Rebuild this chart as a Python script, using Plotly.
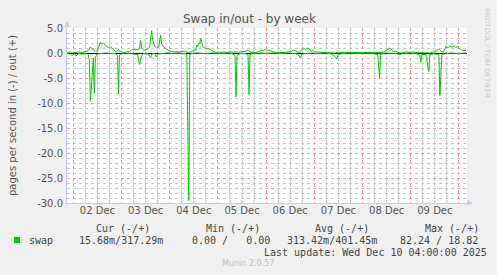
import math
import pandas as pd
import plotly.graph_objects as go

# ---------------- data ----------------
BASE = "2025-12-02 00:00"
RANGE_START = "2025-12-01 20:52"
RANGE_END = "2025-12-10 04:00"

# swap out (+), hours since BASE
out_hours = [-3, -1.5, -0.5, 1, 2.5, 4.5, 6, 7.5, 8.5, 9, 10, 11, 12, 13, 13.5, 14, 15, 16, 17, 18, 19, 20, 21, 22,
             22.5, 23, 24, 25, 26.5, 28, 29, 30, 31, 32, 33, 33.5, 34, 35, 36, 37, 38, 39, 39.5, 40.5, 41.5, 42.5,
             43.5, 44, 45, 46, 47, 48, 49, 50, 51, 52.5, 54, 55.5, 56.5, 57.5, 58.5, 60, 61, 61.5, 62, 62.5, 63,
             63.5, 64, 64.5, 65.5, 66.5, 67.5, 68.5, 69.5, 70.5, 72, 73.5, 75, 76.5, 78, 79.5, 81, 82.5, 84, 85.5,
             87, 88, 89.5, 91, 92.5, 93.5, 94.5, 95.5, 96.5, 97.5, 98.5, 99.5, 101, 102.5, 104, 105.5, 107, 108.5,
             109.5, 110.5, 111.5, 112.5, 113.5, 114.5, 115.5, 116.5, 117.5, 118.5, 119.5, 120.5, 121.5, 123, 124.5,
             126, 128, 130, 132, 134, 136, 138, 140, 142, 144, 146, 148, 150, 151.5, 153.5, 155, 156.5, 157.5,
             158.5, 159.5, 160.5, 161.5, 163, 164.5, 166, 167.5, 169, 170.5, 172, 174, 175.5, 177.5, 179.5, 181,
             182, 183, 184, 185, 185.5, 186.5, 187.5, 188.5, 189.5, 190.5, 191.5, 192.5, 193.5, 194.5, 195.5]
out_values = [0.1, 0.2, 0.0, 0.1, 0.2, 0.1, 0.3, 0.5, 1.2, 1.0, 0.6, 0.3, 0.5, 1.6, 2.2, 1.8, 1.9, 1.5, 1.2, 1.0,
              1.1, 0.6, 0.3, 0.4, 0.7, 0.4, 0.2, 0.1, 0.2, 0.3, 0.6, 0.8, 0.6, 0.7, 0.9, 2.5, 1.0, 0.5, 0.6, 0.8,
              1.2, 4.5, 2.5, 1.4, 1.0, 1.2, 3.6, 1.8, 1.2, 0.9, 0.6, 0.4, 0.3, 0.2, 0.3, 0.2, 0.3, 0.4, 0.2, 0.1,
              0.3, 0.4, 0.6, 1.6, 1.3, 2.0, 1.9, 2.9, 1.8, 1.3, 1.0, 0.8, 0.9, 0.6, 0.3, 0.1, 0.2, 0.1, 0.2, 0.1,
              0.2, 0.2, 0.1, 0.2, 0.3, 0.3, 0.6, 0.2, 0.1, 0.1, 0.3, 0.6, 0.5, 0.7, 0.5, 0.6, 0.4, 0.2, 0.1, 0.1,
              0.0, 0.1, 0.2, 0.3, 0.6, 0.4, 0.2, 0.1, 0.5, 1.0, 0.7, 1.0, 0.8, 0.3, 0.6, 0.2, 0.2, 0.1, 0.1, 0.1,
              0.0, 0.0, 0.1, 0.1, 0.0, 0.1, 0.1, 0.1, 0.0, 0.1, 0.1, 0.0, 0.1, 0.1, 0.3, 0.8, 1.0, 0.6, 0.3, 0.4,
              0.1, 0.0, 0.1, 0.2, 0.1, 0.2, 0.1, 0.1, 0.1, 0.1, 0.0, 0.2, 0.5, 0.8, 0.4, 0.2, 0.8, 1.3, 1.1, 1.3,
              1.2, 1.4, 1.1, 1.3, 0.9, 0.5, 0.5, 0.5]

# swap in (-), hours since BASE, plotted negated
in_hours = [-3, -1.5, -0.5, 0.5, 1.5, 2.5, 4.5, 6.5, 7.5, 8, 8.5, 9.5, 10, 10.5, 11, 12, 13.5, 16, 18.5, 21, 22,
            22.5, 23, 24, 26, 28, 30.5, 32, 33, 34, 35, 36, 37.5, 38.5, 39, 40.5, 41.5, 42, 44, 46.5, 49, 51.5, 54,
            56, 56.5, 57.5, 58, 59, 61.5, 65.5, 69, 73, 77, 79, 80.5, 81, 81.5, 83, 85.5, 87, 87.5, 88, 90, 93, 96,
            99, 103, 107, 110.5, 112, 113, 114, 116, 119, 122, 125, 128, 129.5, 130.5, 131, 132, 134, 138, 142,
            146, 149, 151.5, 152.5, 153, 155, 158.5, 161.5, 162.5, 163.5, 167.5, 170.5, 172.5, 173, 173.5, 175.5,
            177, 177.5, 179.5, 182, 182.5, 183.5, 185.5, 188.5, 191.5, 195.5]
in_values = [0.1, 0.2, 0.5, 0.1, 0.6, 0.1, 0.2, 0.1, 0.3, 1.5, 9.5, 2.0, 1.0, 8.0, 0.8, 0.2, 0.1, 0.0, 0.1, 0.1,
             0.5, 8.2, 0.4, 0.1, 0.0, 0.1, 0.1, 0.3, 2.3, 0.6, 0.1, 0.1, 0.2, 1.0, 0.2, 0.1, 0.8, 0.2, 0.1, 0.0,
             0.1, 0.0, 0.1, 0.1, 0.5, 29.5, 0.3, 0.1, 0.0, 0.1, 0.0, 0.1, 0.0, 0.1, 0.5, 8.8, 0.5, 0.1, 0.1, 0.3,
             8.3, 0.2, 0.1, 0.0, 0.1, 0.0, 0.1, 0.0, 0.1, 0.3, 1.0, 0.2, 0.1, 0.0, 0.1, 0.0, 0.1, 0.5, 0.8, 1.2,
             0.3, 0.1, 0.0, 0.1, 0.0, 0.1, 0.3, 5.0, 0.3, 0.0, 0.1, 0.1, 0.4, 0.1, 0.0, 0.1, 0.4, 1.9, 0.3, 0.3,
             3.7, 0.3, 0.1, 0.4, 8.5, 0.3, 0.1, 0.0, 0.1, 0.0]

y_tick_values = [5, 0, -5, -10, -15, -20, -25, -30]
y_tick_labels = ["5.0", "0.0", "-5.0", "-10.0", "-15.0", "-20.0", "-25.0", "-30.0"]

legend_headers = ["Cur (-/+)", "Min (-/+)", "Avg (-/+)", "Max (-/+)"]
legend_values = ["15.68m/317.29m", "0.00 /   0.00", "313.42m/401.45m", "82.24 / 18.82"]
series_name = "swap"
last_update = "Last update: Wed Dec 10 04:00:00 2025"

# ---------------- figure ----------------
W, H = 497, 275
L, R, T, B = 67, 30, 28, 72
PW, PH = W - L - R, H - T - B
MINOR_STEP_H = 6


def px(x):
    return (x - L) / PW


def py(y):
    return (H - B - y) / PH


base = pd.Timestamp(BASE)
out_x = base + pd.to_timedelta(out_hours, unit="h")
in_x = base + pd.to_timedelta(in_hours, unit="h")
in_y = [-v for v in in_values]
h_start = (pd.Timestamp(RANGE_START) - base) / pd.Timedelta(hours=1)
h_end = (pd.Timestamp(RANGE_END) - base) / pd.Timedelta(hours=1)

GREEN = "#00CC00"
fig = go.Figure()
# invisible anchor trace so the base (minor-grid) subplot is drawn
fig.add_trace(go.Scatter(x=[h_start, h_end], y=[None, None], mode="lines",
                         line=dict(width=0), hoverinfo="skip", xaxis="x", yaxis="y"))
fig.add_trace(go.Scatter(x=in_x, y=in_y, mode="lines", line=dict(color=GREEN, width=1),
                         hoverinfo="skip", xaxis="x2", yaxis="y2"))
fig.add_trace(go.Scatter(x=out_x, y=out_values, mode="lines", line=dict(color=GREEN, width=1),
                         hoverinfo="skip", xaxis="x2", yaxis="y2"))

MAJ = "#E8A0A0"
MIN = "#C8C8C8"
AXC = "#C8C8F0"
TXT = "#555555"

fig.update_layout(
    width=W, height=H,
    margin=dict(l=L, r=R, t=T, b=B, pad=0),
    paper_bgcolor="#F0F0F0", plot_bgcolor="#FFFFFF",
    showlegend=False,
    font=dict(family="DejaVu Sans", size=10, color=TXT),
    # base axes: minor grid only (hours since BASE)
    xaxis=dict(
        type="linear", range=[h_start, h_end], tick0=0, dtick=MINOR_STEP_H,
        showgrid=True, gridcolor=MIN, griddash="dot", gridwidth=1,
        showticklabels=False, ticks="", zeroline=False,
        showline=True, linecolor=AXC, linewidth=1, fixedrange=True,
    ),
    yaxis=dict(
        range=[-30, 5], tick0=0, dtick=1,
        showgrid=True, gridcolor=MIN, griddash="dot", gridwidth=1,
        showticklabels=False, ticks="", zeroline=False,
        showline=True, linecolor=AXC, linewidth=1, fixedrange=True,
        title=dict(text="pages per second in (-) / out (+)", font=dict(size=10, color=TXT), standoff=47),
    ),
    # overlay axes: major grid, labels, data
    xaxis2=dict(
        type="date", range=[RANGE_START, RANGE_END], overlaying="x", anchor="y2", side="bottom",
        tick0="2025-12-02", dtick=86400000, ticklabelmode="period", tickformat="%d %b",
        showgrid=True, gridcolor=MAJ, griddash="dot", gridwidth=1,
        showline=False, ticks="", zeroline=False,
        tickfont=dict(size=10, color=TXT), fixedrange=True,
    ),
    yaxis2=dict(
        range=[-30, 5], overlaying="y", anchor="x2", side="left",
        tickmode="array", tickvals=y_tick_values, ticktext=y_tick_labels,
        showgrid=True, gridcolor=MAJ, griddash="dot", gridwidth=1,
        showline=False, ticks="",
        zeroline=True, zerolinecolor="#000000", zerolinewidth=1,
        tickfont=dict(size=10, color=TXT), ticklabelstandoff=3, fixedrange=True,
    ),
)

# vertical minor grid (every 6 h, skipping midnights which carry the major grid)
for k in range(math.ceil(h_start / MINOR_STEP_H), math.floor(h_end / MINOR_STEP_H) + 1):
    if k % 4 == 0:
        continue
    fig.add_shape(type="line", xref="x", yref="paper", x0=k * MINOR_STEP_H, x1=k * MINOR_STEP_H, y0=0, y1=1,
                  line=dict(color=MIN, width=1, dash="dot"), layer="below")

# axis arrows
fig.add_shape(type="path", xref="paper", yref="paper", xsizemode="pixel", ysizemode="pixel",
              xanchor=0, yanchor=1, path="M-3,1 L3,1 L0,7 Z", fillcolor=AXC, line=dict(width=0))
fig.add_shape(type="line", xref="paper", yref="paper", xsizemode="pixel", ysizemode="pixel",
              xanchor=0, yanchor=1, x0=0, x1=0, y0=0, y1=3, line=dict(color=AXC, width=1))
fig.add_shape(type="path", xref="paper", yref="paper", xsizemode="pixel", ysizemode="pixel",
              xanchor=1, yanchor=0, path="M0,-3 L0,3 L6,0 Z", fillcolor=AXC, line=dict(width=0))

# title
fig.add_annotation(text="Swap in/out - by week", xref="paper", yref="paper", x=px(249), y=py(19),
                   showarrow=False, xanchor="center", yanchor="middle",
                   font=dict(family="DejaVu Sans", size=12, color="#555555"))

# watermark
fig.add_annotation(text="RRDTOOL / TOBI OETIKER", xref="paper", yref="paper", x=px(487), y=py(53),
                   showarrow=False, textangle=90, xanchor="center", yanchor="middle",
                   font=dict(family="DejaVu Sans", size=7, color="#C8C8C8"))

# legend
MONO = "DejaVu Sans Mono"
LEG = "#444444"
fig.add_shape(type="rect", xref="paper", yref="paper", x0=px(14), x1=px(20), y0=py(243), y1=py(237),
              fillcolor=GREEN, line=dict(width=0))
fig.add_annotation(text=series_name, xref="paper", yref="paper", x=px(27), y=py(240), showarrow=False,
                   xanchor="left", yanchor="middle", font=dict(family=MONO, size=10, color=LEG))
header_x = [94, 204, 313, 423]
value_x = [77, 190, 285, 398]
for hx, htxt in zip(header_x, legend_headers):
    fig.add_annotation(text=htxt, xref="paper", yref="paper", x=px(hx), y=py(228), showarrow=False,
                       xanchor="left", yanchor="middle", font=dict(family=MONO, size=10, color=LEG))
for vx, vtxt in zip(value_x, legend_values):
    fig.add_annotation(text=vtxt.replace(" ", "&nbsp;"), xref="paper", yref="paper", x=px(vx), y=py(240),
                       showarrow=False, xanchor="left", yanchor="middle",
                       font=dict(family=MONO, size=10, color=LEG))
fig.add_annotation(text=last_update, xref="paper", yref="paper", x=px(262), y=py(252), showarrow=False,
                   xanchor="left", yanchor="middle", font=dict(family=MONO, size=10, color=LEG))
fig.add_annotation(text="Munin 2.0.57", xref="paper", yref="paper", x=px(248), y=py(263), showarrow=False,
                   xanchor="center", yanchor="middle", font=dict(family="DejaVu Sans", size=8, color="#C0C0C0"))

fig.write_html("out.html")
